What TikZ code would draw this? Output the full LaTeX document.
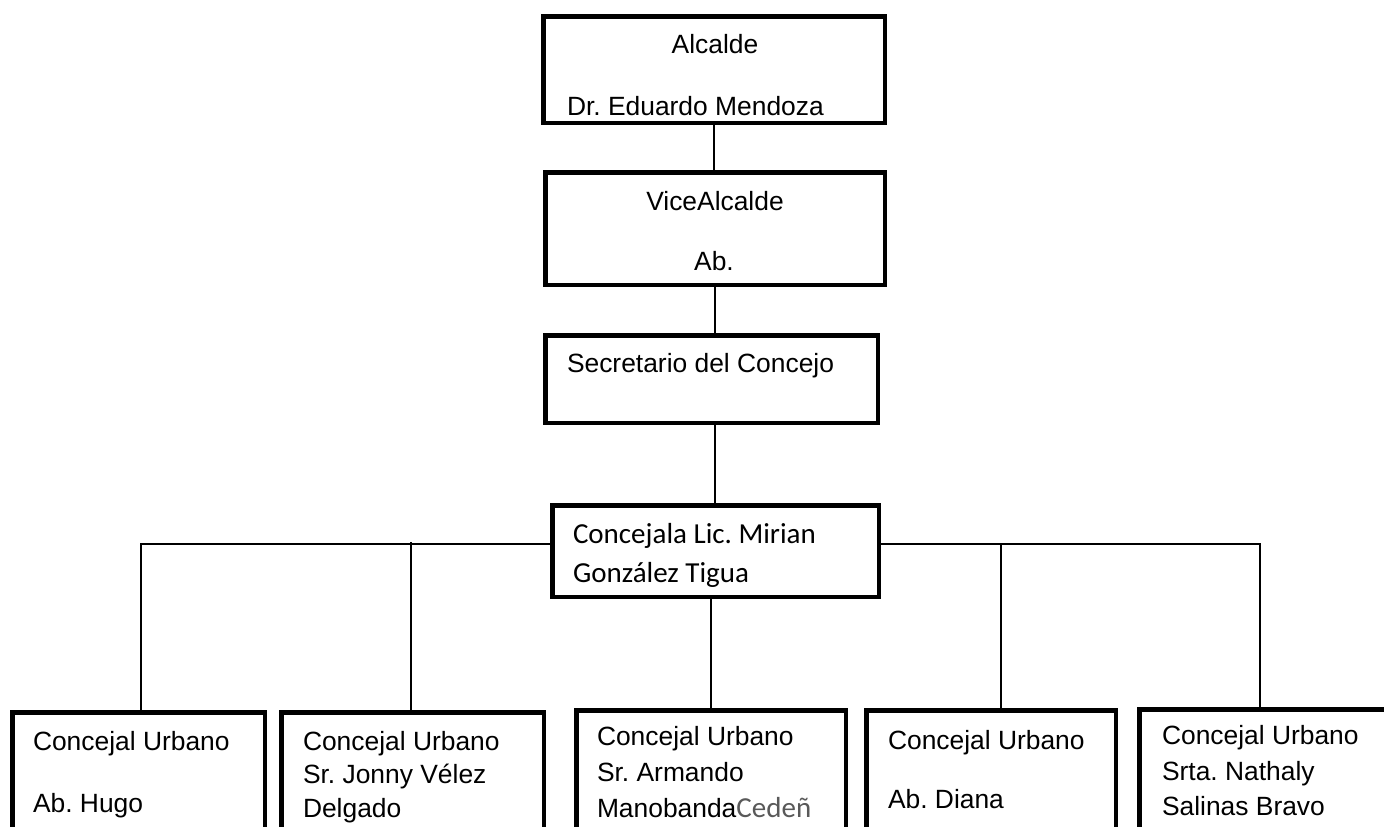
\documentclass[tikz,border=0pt]{standalone}
\usepackage{fontspec}
\setmainfont{Liberation Sans}
\newfontfamily\calibri{Carlito}
\definecolor{cedgray}{HTML}{595959}
\begin{document}
\frenchspacing
\begin{tikzpicture}[x=1pt,y=-1pt,
  box/.style={draw=black,line width=4.5pt,rectangle,inner sep=0pt,outer sep=0pt,anchor=north west,fill=white},
  conn/.style={draw=black,line width=1.8pt},
  txt/.style={inner sep=0pt,outer sep=0pt,font=\fontsize{26.4pt}{32pt}\selectfont},
  ctxt/.style={inner sep=0pt,outer sep=0pt,font=\calibri\fontsize{29pt}{35pt}\selectfont}]
\useasboundingbox (0,0) rectangle (1384,827);
\fill[white] (0,0) rectangle (1384,827);
\clip (0,0) rectangle (1384,827);

% boxes
\node[box,minimum width=341.5pt,minimum height=106.5pt] (alc) at (543.25,16.25) {};
\node[box,minimum width=339.5pt,minimum height=112.5pt] (vice) at (545.25,172.25) {};
\node[box,minimum width=332.5pt,minimum height=87.5pt] (sec) at (545.25,335.25) {};
\node[box,minimum width=326.5pt,minimum height=91.5pt] (conc) at (552.25,505.25) {};
\node[box,minimum width=252.5pt,minimum height=140pt] (b1) at (12.25,712.25) {};
\node[box,minimum width=262.5pt,minimum height=140pt] (b2) at (281.25,712.25) {};
\node[box,minimum width=269.5pt,minimum height=140pt] (b3) at (576.25,710.25) {};
\node[box,minimum width=249.5pt,minimum height=140pt] (b4) at (866.25,710.25) {};
\node[box,minimum width=280pt,minimum height=140pt] (b5) at (1139.25,709.25) {};

% connectors
\coordinate (t1) at (141,544);
\coordinate (t2) at (411,544);
\coordinate (t4) at (1001,544);
\coordinate (t5) at (1260,544);
\draw[conn] (alc.south) -- (alc.south |- vice.north);
\draw[conn] (vice.south) -- (vice.south |- sec.north);
\draw[conn] (vice.south |- sec.south) -- (vice.south |- conc.north);
\draw[conn] (b3.north |- conc.south) -- (b3.north);
\draw[conn] (conc.west |- t1) -- (t1) -- (t1 |- b1.north);
\draw[conn] (t2 |- 0,542) -- (t2 |- b2.north);
\draw[conn] (conc.east |- t5) -- (t5) -- (t5 |- b5.north);
\draw[conn] (t4) -- (t4 |- b4.north);

% texts
\node[txt,anchor=base] (alcT1) at (715,53) {Alcalde};
\node[txt,anchor=base west] (alcT2) at (567,115) {Dr. Eduardo Mendoza};
\node[txt,anchor=base] (viceT1) at (715,210) {ViceAlcalde};
\node[txt,anchor=base] (viceT2) at (714,270) {Ab.};
\node[txt,anchor=base west] (secT) at (567,372) {Secretario del Concejo};
\node[ctxt,anchor=base west] (concT1) at (573,543) {Concejala Lic. Mirian};
\node[ctxt,anchor=base west] (concT2) at (573,582) {González Tigua};

\node[txt,anchor=base west] (b1T1) at (33,750) {Concejal Urbano};
\node[txt,anchor=base west] (b1T2) at (33,812) {Ab. Hugo};

\node[txt,anchor=base west] (b2T1) at (303,750) {Concejal Urbano};
\node[txt,anchor=base west] (b2T2) at (303,783) {Sr. Jonny Vélez};
\node[txt,anchor=base west] (b2T3) at (303,817) {Delgado};

\node[txt,anchor=base west] (b3T1) at (597,745) {Concejal Urbano};
\node[txt,anchor=base west] (b3T2) at (597,781) {Sr. Armando};
\node[txt,anchor=base west] (b3T3) at (597,817) {Manobanda{\calibri\fontsize{29pt}{35pt}\selectfont\color{cedgray}Cedeñ}};

\node[txt,anchor=base west] (b4T1) at (888,749) {Concejal Urbano};
\node[txt,anchor=base west] (b4T2) at (888,808) {Ab. Diana};

\node[txt,anchor=base west] (b5T1) at (1162,744) {Concejal Urbano};
\node[txt,anchor=base west] (b5T2) at (1162,780) {Srta. Nathaly};
\node[txt,anchor=base west] (b5T3) at (1162,815) {Salinas Bravo};
\end{tikzpicture}
\end{document}
